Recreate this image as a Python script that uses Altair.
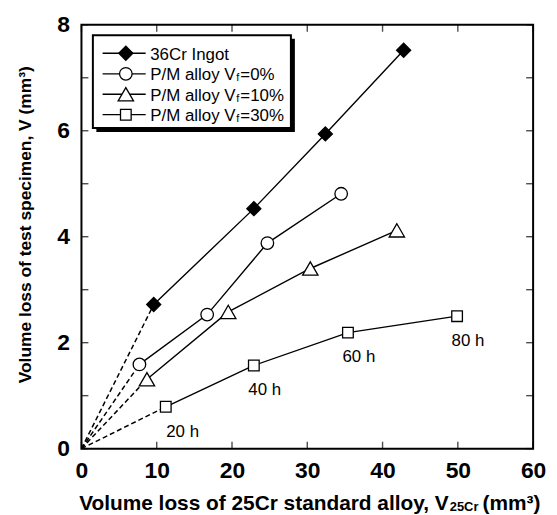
import altair as alt
import pandas as pd

series_names = ["36Cr Ingot", "P/M alloy Vf=0%", "P/M alloy Vf=10%", "P/M alloy Vf=30%"]
x_ingot = [9.6, 22.9, 32.4, 42.8]
y_ingot = [2.72, 4.53, 5.94, 7.52]
x_vf0 = [7.7, 16.7, 24.7, 34.5]
y_vf0 = [1.59, 2.53, 3.88, 4.81]
x_vf10 = [8.7, 19.5, 30.4, 41.9]
y_vf10 = [1.31, 2.58, 3.40, 4.12]
x_vf30 = [11.2, 22.9, 35.4, 49.9]
y_vf30 = [0.79, 1.57, 2.19, 2.50]
hours = ["20 h", "40 h", "60 h", "80 h"]
x_ticks = [0, 10, 20, 30, 40, 50, 60]
y_ticks = [0, 1, 2, 3, 4, 5, 6, 7, 8]

W, H = 455, 427
FONT = "Liberation Sans"

xs = alt.Scale(domain=[0, 60], nice=False, zero=False)
ys = alt.Scale(domain=[0, 8], nice=False, zero=False)

all_x = [x_ingot, x_vf0, x_vf10, x_vf30]
all_y = [y_ingot, y_vf0, y_vf10, y_vf30]
rows, dash = [], []
for k in range(4):
    for i, (a, b) in enumerate(zip(all_x[k], all_y[k])):
        rows.append(dict(series=series_names[k], x=a, y=b, order=i, hour=hours[i]))
    dash.append(dict(series=series_names[k], x=0.0, y=0.0, order=0))
    dash.append(dict(series=series_names[k], x=all_x[k][0], y=all_y[k][0], order=1))
df = pd.DataFrame(rows)
ddf = pd.DataFrame(dash)
one = pd.DataFrame({"a": [0]})

shapes = ["diamond", "circle", "triangle-up", "square"]
fills = ["black", "white", "white", "white"]
sizes = [200, 160, 240, 115]

X = alt.X("x:Q", scale=xs, axis=alt.Axis(
    title=None, values=x_ticks, domain=False, ticks=False, tickSize=0, grid=False,
    labelFont=FONT, labelFontSize=23, labelFontWeight="bold", labelColor="black",
    labelPadding=11, labelOverlap=False, labelFlush=False))
Y = alt.Y("y:Q", scale=ys, axis=alt.Axis(
    title="Volume loss of test specimen, V (mm³)", values=y_ticks, domain=False, ticks=False,
    tickSize=0, grid=False, labelFont=FONT, labelFontSize=23, labelFontWeight="bold",
    labelColor="black", labelPadding=12, labelOverlap=False, labelFlush=False,
    labelExpr="datum.value % 2 == 0 ? datum.label : ''",
    titleFont=FONT, titleFontSize=17.5, titleFontWeight="bold", titleColor="black",
    titleAngle=270, titleX=-56, titleY=201, titleAlign="center", titleBaseline="middle"))

lines = alt.Chart(df).mark_line(color="black", strokeWidth=1.4).encode(
    x=X, y=Y, detail="series:N", order="order:Q")
dashes = alt.Chart(ddf).mark_line(color="black", strokeWidth=1.5, strokeDash=[5, 3]).encode(
    x=alt.X("x:Q", scale=xs), y=alt.Y("y:Q", scale=ys), detail="series:N", order="order:Q")

layers = [dashes, lines]
for k in range(4):
    layers.append(alt.Chart(df[df.series == series_names[k]]).mark_point(
        shape=shapes[k], filled=True, fill=fills[k], stroke="black", strokeWidth=1.3,
        size=sizes[k], opacity=1).encode(x=alt.X("x:Q", scale=xs), y=alt.Y("y:Q", scale=ys)))

# time annotations on Vf=30% series
lab_dx = [17, 11, 11, 11]
d30 = df[df.series == series_names[3]].reset_index(drop=True)
for i in range(4):
    layers.append(alt.Chart(d30.iloc[[i]]).mark_text(
        font=FONT, fontSize=17, color="black", align="center", baseline="alphabetic",
        dx=lab_dx[i], dy=30).encode(x=alt.X("x:Q", scale=xs), y=alt.Y("y:Q", scale=ys), text="hour:N"))

# inward ticks on all four sides
tx = pd.DataFrame({"x": x_ticks})
ty = pd.DataFrame({"y": y_ticks})
for yy in [H - 3.5, 3.5]:
    layers.append(alt.Chart(tx).mark_tick(color="black", size=7, thickness=1.4).encode(
        x=alt.X("x:Q", scale=xs), y=alt.value(yy)))
for xx in [3.5, W - 3.5]:
    layers.append(alt.Chart(ty).mark_tick(color="black", size=7, thickness=1.4).encode(
        y=alt.Y("y:Q", scale=ys), x=alt.value(xx)))

# x-axis title with subscript
xt = [("Volume loss of 25Cr standard alloy, V", 370, 488.7, 21, "right"),
      ("25Cr", 371, 489.5, 13, "left"),
      ("(mm³)", 404, 488.7, 21, "left")]
for t, px, py, fs, al in xt:
    layers.append(alt.Chart(one).mark_text(
        text=t, font=FONT, fontSize=fs, fontWeight="bold", color="black", align=al,
        baseline="alphabetic").encode(x=alt.value(px), y=alt.value(py)))

# legend box with shadow
layers.append(alt.Chart(one).mark_rect(color="black").encode(
    x=alt.value(15), x2=alt.value(215), y=alt.value(14), y2=alt.value(108)))
layers.append(alt.Chart(one).mark_rect(fill="white", stroke="black", strokeWidth=2).encode(
    x=alt.value(11.5), x2=alt.value(211), y=alt.value(10.5), y2=alt.value(104)))

row_y = [28.7, 49.4, 70.0, 90.6]
for k in range(4):
    yk = row_y[k]
    layers.append(alt.Chart(one).mark_rule(color="black", strokeWidth=1.3).encode(
        x=alt.value(21.3), x2=alt.value(64.7), y=alt.value(yk)))
    layers.append(alt.Chart(one).mark_point(
        shape=shapes[k], filled=True, fill=fills[k], stroke="black", strokeWidth=1.3,
        size=sizes[k], opacity=1).encode(x=alt.value(44.7), y=alt.value(yk)))
    name = series_names[k]
    if "Vf" in name:
        head, tail = name.split("Vf")
        pieces = [(head + "V", 69.3, 17, yk + 6.3), ("f", 156, 11, yk + 7.5), (tail, 160, 17, yk + 6.3)]
    else:
        pieces = [(name, 69.3, 17, yk + 6.3)]
    for t, px, fs, py in pieces:
        layers.append(alt.Chart(one).mark_text(
            text=t, font=FONT, fontSize=fs, color="black", align="left",
            baseline="alphabetic").encode(x=alt.value(px), y=alt.value(py)))

chart = alt.layer(*layers).properties(
    width=W, height=H,
    padding={"left": 74, "top": 15, "right": 16, "bottom": 72},
    autosize=alt.AutoSizeParams(type="none"),
    background="white",
).configure_view(stroke="black", strokeWidth=2)

chart.save("out.html", embed_options={"renderer": "svg", "actions": False})
